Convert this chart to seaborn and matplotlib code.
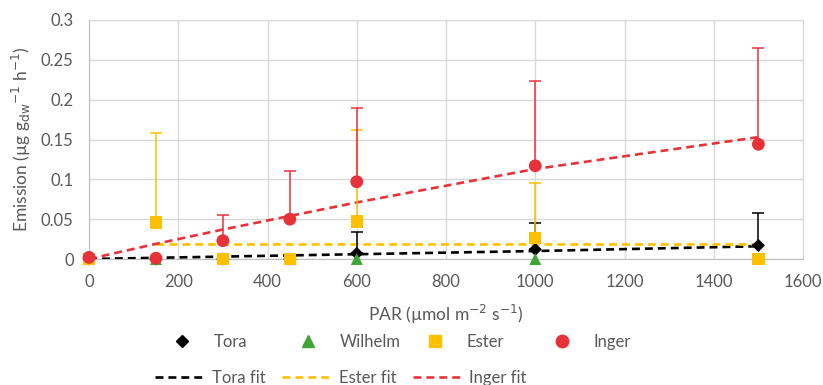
import matplotlib.pyplot as plt
import seaborn as sns
import pandas as pd
import numpy as np
from matplotlib.lines import Line2D

# Data
par = [0, 150, 300, 450, 600, 1000, 1500]
tora = [0.0, 0.0, 0.0, 0.0, 0.007, 0.012, 0.017]
tora_err = [0.0, 0.0, 0.0, 0.0, 0.027, 0.033, 0.041]
wilhelm = [0.0, 0.0, 0.0, 0.0, 0.0, 0.0, 0.0]
ester = [0.0, 0.046, 0.0, 0.0, 0.047, 0.026, 0.0]
ester_err = [0.0, 0.112, 0.0, 0.0, 0.115, 0.069, 0.0]
inger = [0.002, 0.001, 0.023, 0.050, 0.097, 0.117, 0.144]
inger_err = [0.0, 0.0, 0.032, 0.060, 0.092, 0.106, 0.121]

tora_fit = [0.0, 0.0015, 0.003, 0.0045, 0.006, 0.010, 0.016]
ester_fit_x = [150, 300, 450, 600, 1000, 1500]
ester_fit = [0.019, 0.019, 0.019, 0.019, 0.019, 0.019]
inger_fit = [0.0, 0.019, 0.037, 0.054, 0.071, 0.113, 0.153]

c_tora = '#000000'
c_wil = '#3fa535'
c_est = '#ffc000'
c_ing = '#e8323a'
dash = (0, (3.0, 1.9))

sns.set_style('white')
plt.rcParams['font.family'] = ['Lato', 'DejaVu Sans']

fig = plt.figure(figsize=(8.23, 3.85), dpi=100)
ax = fig.add_axes([89 / 823, 1 - 259 / 385, (803 - 89) / 823, (259 - 20) / 385])

# fits
sns.lineplot(x=par, y=tora_fit, ax=ax, color=c_tora, lw=1.9, linestyle=dash, zorder=3)
sns.lineplot(x=ester_fit_x, y=ester_fit, ax=ax, color=c_est, lw=1.9, linestyle=dash, zorder=3)
sns.lineplot(x=par, y=inger_fit, ax=ax, color=c_ing, lw=1.9, linestyle=dash, zorder=3)

# error bars (positive only)
zeros = np.zeros(len(par))
for y, e, c in [(tora, tora_err, c_tora), (ester, ester_err, c_est), (inger, inger_err, c_ing)]:
    mask = np.array(e) > 0
    ax.errorbar(np.array(par)[mask], np.array(y)[mask], yerr=[zeros[mask], np.array(e)[mask]],
                fmt='none', ecolor=c, elinewidth=1.1, capsize=4, capthick=1.1, zorder=4)

# points (series order: later drawn on top)
pts = pd.DataFrame({'PAR': par, 'Tora': tora, 'Wilhelm': wilhelm, 'Ester': ester, 'Inger': inger})
for name, c, m, s in [('Tora', c_tora, 'D', 45), ('Wilhelm', c_wil, '^', 75),
                      ('Ester', c_est, 's', 80), ('Inger', c_ing, 'o', 85)]:
    sns.scatterplot(data=pts, x='PAR', y=name, ax=ax, color=c, marker=m, s=s,
                    edgecolor='none', zorder=5, clip_on=False)

ax.set_xlim(0, 1600)
ax.set_ylim(0, 0.3)
ax.set_xticks(range(0, 1601, 200))
ax.set_yticks([0, 0.05, 0.1, 0.15, 0.2, 0.25, 0.3])
ax.set_yticklabels(['0', '0.05', '0.1', '0.15', '0.2', '0.25', '0.3'])
ax.grid(True, color='#d9d9d9', lw=1)
ax.set_axisbelow(True)
for sp in ['top', 'right']:
    ax.spines[sp].set_color('#d9d9d9')
for sp in ['left', 'bottom']:
    ax.spines[sp].set_color('#bfbfbf')
ax.tick_params(colors='#595959', labelsize=12, length=0)
ax.tick_params(axis='x', pad=11)
ax.tick_params(axis='y', pad=11)
ax.set_xlabel('PAR (µmol m$^{-2}$ s$^{-1}$)', fontsize=12.5, color='#595959', labelpad=9)
ax.set_ylabel('Emission (µg g$_{\\mathrm{dw}}$$^{-1}$ h$^{-1}$)', fontsize=12.5, color='#595959', labelpad=6)

# legend row 1: equal-width entries like the original
h1 = [Line2D([], [], ls='none', marker='D', color=c_tora, ms=6.5),
      Line2D([], [], ls='none', marker='^', color=c_wil, ms=8.5),
      Line2D([], [], ls='none', marker='s', color=c_est, ms=8),
      Line2D([], [], ls='none', marker='o', color=c_ing, ms=9)]
names = ['Tora', 'Wilhelm', 'Ester', 'Inger']
mx = [182, 308, 435, 562]
for h, n, x in zip(h1, names, mx):
    fig.legend([h], [n], frameon=False, loc='center left', borderpad=0, borderaxespad=0,
               bbox_to_anchor=((x - 8) / 823, 1 - 342 / 385), fontsize=12,
               handlelength=1.0, handletextpad=1.38, labelcolor='#595959')

h2 = [Line2D([], [], color=c, lw=1.9, linestyle=dash) for c in [c_tora, c_est, c_ing]]
fig.legend(h2, ['Tora fit', 'Ester fit', 'Inger fit'], ncol=3, frameon=False,
           loc='center left', borderpad=0, borderaxespad=0,
           bbox_to_anchor=(155 / 823, 1 - 378 / 385), fontsize=12,
           columnspacing=1.0, handletextpad=0.4, handlelength=3.0, labelcolor='#595959')

fig.savefig('out.png', dpi=100)
